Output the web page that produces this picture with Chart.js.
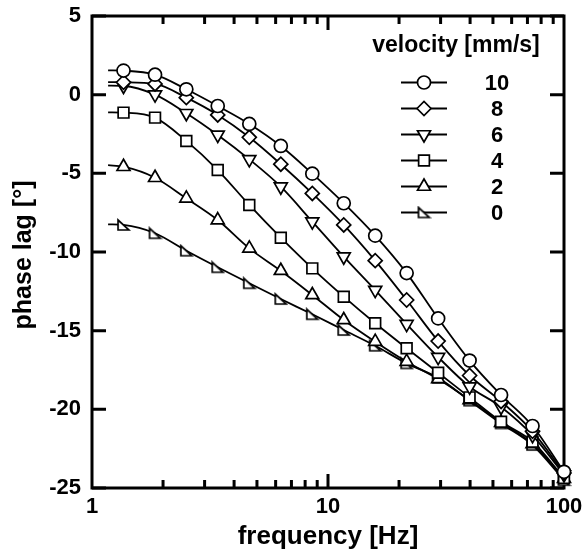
<!DOCTYPE html>
<html>
<head>
<meta charset="utf-8">
<script src="https://cdn.jsdelivr.net/npm/chart.js@4.4.0/dist/chart.umd.min.js"></script>
<style>
  html, body { margin: 0; padding: 0; background: #fff; }
</style>
</head>
<body>
<canvas id="chart" width="583" height="559"></canvas>
<script>
// frequency [Hz] - first entry is where the fitted curves begin (no marker drawn there)
const freqs = [1.17, 1.36, 1.85, 2.51, 3.41, 4.64, 6.31, 8.58, 11.66, 15.85, 21.54, 29.29, 39.81, 54.12, 73.56, 100];

// phase lag [deg] for each velocity
const lag10 = [1.55, 1.53, 1.27, 0.34, -0.72, -1.86, -3.26, -5.02, -6.90, -8.96, -11.34, -14.22, -16.90, -19.09, -21.06, -23.97];
const lag8  = [0.80, 0.79, 0.68, -0.19, -1.29, -2.71, -4.42, -6.28, -8.28, -10.55, -13.05, -15.66, -17.85, -19.50, -21.40, -24.05];
const lag6  = [0.57, 0.55, 0.00, -1.18, -2.56, -4.11, -5.85, -8.07, -10.30, -12.42, -14.58, -16.68, -18.56, -19.85, -21.65, -24.15];
const lag4  = [-1.12, -1.14, -1.46, -2.94, -4.79, -7.01, -9.09, -11.04, -12.84, -14.53, -16.12, -17.67, -19.24, -20.79, -22.06, -24.37];
const lag2  = [-4.48, -4.58, -5.28, -6.59, -7.97, -9.77, -11.19, -12.73, -14.32, -15.70, -16.97, -18.07, -19.40, -20.85, -22.20, -24.40];
const lag0  = [-8.24, -8.28, -8.81, -9.92, -10.97, -11.99, -12.99, -13.96, -14.96, -15.96, -17.08, -18.00, -19.45, -20.90, -22.27, -24.50];

const velocities = ['10', '8', '6', '4', '2', '0'];

// axis ticks
const xTickLabels = [1, 10, 100];
const xMinorTicks = [2, 3, 4, 5, 6, 7, 8, 9, 20, 30, 40, 50, 60, 70, 80, 90];
const yTickLabels = [-25, -20, -15, -10, -5, 0, 5];

const FONT = '"Liberation Sans", Arial, sans-serif';

// right-angled triangle marker for the 0 mm/s series
const makeRightTriangle = () => {
    const c = document.createElement('canvas');
    c.width = 15; c.height = 14;
    const g = c.getContext('2d');
    g.beginPath();
    g.moveTo(2, 2);
    g.lineTo(2, 12);
    g.lineTo(13, 12);
    g.closePath();
    g.fillStyle = '#fff';
    g.fill();
    g.lineWidth = 1.7;
    g.strokeStyle = '#000';
    g.stroke();
    return c;
};
const rightTri = makeRightTriangle();

// marker style per series
const markers = [
    { pointStyle: 'circle', radius: 6.5, rotation: 0 },
    { pointStyle: 'rectRot', radius: 7, rotation: 0 },
    { pointStyle: 'triangle', radius: 7.5, rotation: 180 },
    { pointStyle: 'rect', radius: 7.6, rotation: 0 },
    { pointStyle: 'triangle', radius: 7.5, rotation: 0 },
    { pointStyle: rightTri, radius: 7, rotation: 0 }
];

const series = [lag10, lag8, lag6, lag4, lag2, lag0];

const datasets = series.map((vals, i) => ({
    label: velocities[i],
    data: freqs.map((f, k) => ({ x: f, y: vals[k] })),
    borderColor: '#000',
    borderWidth: 1.8,
    backgroundColor: '#fff',
    pointBackgroundColor: '#fff',
    pointBorderColor: '#000',
    pointBorderWidth: 1.7,
    pointStyle: markers[i].pointStyle,
    pointRotation: markers[i].rotation,
    pointRadius: ctx => ctx.dataIndex === 0 ? 0 : markers[i].radius,
    cubicInterpolationMode: 'monotone',
    fill: false,
    clip: false
}));

// frame with inward ticks, drawn under the curves
const framePlugin = {
    id: 'frame',
    beforeDatasetsDraw(chart) {
        const { ctx, chartArea: a, scales: { x, y } } = chart;
        ctx.save();
        ctx.strokeStyle = '#000';
        ctx.lineWidth = 3;
        ctx.strokeRect(a.left, a.top, a.right - a.left, a.bottom - a.top);
        ctx.beginPath();
        yTickLabels.forEach(v => {
            const py = y.getPixelForValue(v);
            ctx.moveTo(a.left, py); ctx.lineTo(a.left + 14, py);
            ctx.moveTo(a.right, py); ctx.lineTo(a.right - 14, py);
        });
        xMinorTicks.forEach(v => {
            const px = x.getPixelForValue(v);
            ctx.moveTo(px, a.bottom); ctx.lineTo(px, a.bottom - 8);
            ctx.moveTo(px, a.top); ctx.lineTo(px, a.top + 8);
        });
        const p10 = x.getPixelForValue(10);
        ctx.moveTo(p10, a.bottom); ctx.lineTo(p10, a.bottom - 14);
        ctx.moveTo(p10, a.top); ctx.lineTo(p10, a.top + 14);
        ctx.stroke();

        // axis titles
        ctx.fillStyle = '#000';
        ctx.textAlign = 'center';
        ctx.textBaseline = 'middle';
        ctx.font = 'bold 26px ' + FONT;
        ctx.fillText('frequency [Hz]', (a.left + a.right) / 2, 537);
        ctx.translate(24, (a.top + a.bottom) / 2 + 3);
        ctx.rotate(-Math.PI / 2);
        ctx.font = 'bold 25px ' + FONT;
        ctx.fillText('phase lag [°]', 0, 0);
        ctx.restore();
    }
};

// legend: short line with marker, value to the right
const legendPlugin = {
    id: 'velLegend',
    afterDatasetsDraw(chart) {
        const { ctx, chartArea: a } = chart;
        ctx.save();
        ctx.fillStyle = '#000';
        ctx.textBaseline = 'middle';
        ctx.textAlign = 'center';
        ctx.font = 'bold 23px ' + FONT;
        ctx.fillText('velocity [mm/s]', a.right - 108, 46);
        ctx.font = 'bold 22px ' + FONT;
        velocities.forEach((v, i) => {
            const yy = 82.5 + i * 26;
            ctx.strokeStyle = '#000';
            ctx.lineWidth = 1.8;
            ctx.beginPath();
            ctx.moveTo(a.right - 163, yy);
            ctx.lineTo(a.right - 117, yy);
            ctx.stroke();
            ctx.fillStyle = '#fff';
            ctx.lineWidth = 1.7;
            Chart.helpers.drawPoint(ctx, {
                pointStyle: markers[i].pointStyle,
                radius: markers[i].radius,
                rotation: markers[i].rotation,
                borderWidth: 1.7
            }, a.right - 140, yy);
            ctx.fillStyle = '#000';
            ctx.fillText(v, a.right - 67, yy + 1);
        });
        ctx.restore();
    }
};

new Chart(document.getElementById('chart').getContext('2d'), {
    type: 'line',
    data: { datasets: datasets },
    options: {
        responsive: false,
        animation: false,
        layout: { padding: { top: 16, right: 19, left: 0, bottom: 0 } },
        plugins: {
            legend: { display: false },
            tooltip: { enabled: false }
        },
        scales: {
            x: {
                type: 'logarithmic',
                min: 1,
                max: 100,
                grid: { display: false, drawTicks: false },
                border: { display: false },
                afterBuildTicks: scale => {
                    scale.ticks = xTickLabels.map(v => ({ value: v }));
                },
                afterFit: scale => {
                    scale.height = 71;
                    scale.paddingLeft = 0;
                    scale.paddingRight = 0;
                },
                ticks: {
                    autoSkip: false,
                    maxRotation: 0,
                    padding: 6,
                    color: '#000',
                    font: { family: FONT, size: 22, weight: 'bold' },
                    callback: value => String(value)
                }
            },
            y: {
                type: 'linear',
                min: -25,
                max: 5,
                grid: { display: false, drawTicks: false },
                border: { display: false },
                afterBuildTicks: scale => {
                    scale.ticks = yTickLabels.map(v => ({ value: v }));
                },
                afterFit: scale => {
                    scale.width = 92;
                    scale.paddingTop = 0;
                    scale.paddingBottom = 0;
                },
                ticks: {
                    padding: 11,
                    color: '#000',
                    font: { family: FONT, size: 22, weight: 'bold' }
                }
            }
        }
    },
    plugins: [framePlugin, legendPlugin]
});
</script>
</body>
</html>
